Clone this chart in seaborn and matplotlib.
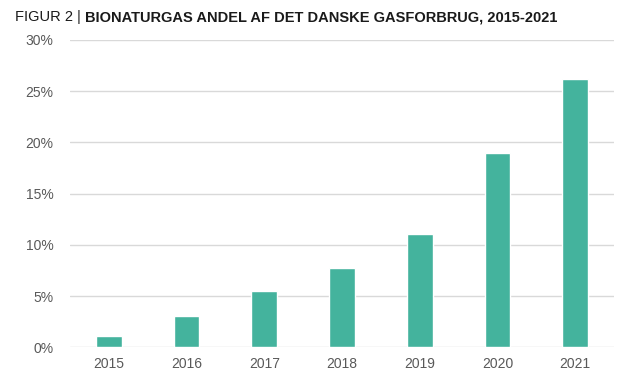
import matplotlib
matplotlib.use("Agg")
import matplotlib.pyplot as plt
import seaborn as sns

years = ["2015", "2016", "2017", "2018", "2019", "2020", "2021"]
share = [1.1, 3.1, 5.5, 7.7, 11.1, 19.0, 26.2]

sns.set_style("white")
plt.rcParams["font.family"] = ["Liberation Sans", "DejaVu Sans"]

fig = plt.figure(figsize=(6.4, 3.92), dpi=100)
ax = fig.add_axes([0.1094, 0.114, 0.8500, 0.784])

sns.barplot(x=years, y=share, color="#44B39D", width=0.33, saturation=1, ax=ax, zorder=3)

ax.set_ylim(0, 30)
ax.set_xlim(-0.5, 6.5)
ax.set_yticks(range(0, 31, 5))
ax.set_yticklabels([f"{v}%" for v in range(0, 31, 5)])
ax.yaxis.grid(True, color="#d9d9d9", linewidth=1.0, zorder=0)
ax.set_axisbelow(True)
for s in ax.spines.values():
    s.set_visible(False)
ax.tick_params(axis="both", length=0, labelsize=10, labelcolor="#595959")
ax.tick_params(axis="y", pad=12)
ax.tick_params(axis="x", pad=7)
ax.set_xlabel("")
ax.set_ylabel("")

# title: normal part + bold part, sized so it ends near x=557px
fs = 12.5
y0 = 1 - 21 / 392
t1 = fig.text(15 / 640, y0, "FIGUR 2 | ", fontsize=fs, color="#1a1a1a", va="baseline")
fig.canvas.draw()
t2 = fig.text(t1.get_window_extent().x1 / 640, y0,
              "BIONATURGAS ANDEL AF DET DANSKE GASFORBRUG, 2015-2021",
              fontsize=fs, fontweight="bold", color="#1a1a1a", va="baseline")
fig.canvas.draw()
scale = (557 - 15) / (t2.get_window_extent().x1 - 15)
fs = fs * scale
t1.set_fontsize(fs)
t2.set_fontsize(fs)
fig.canvas.draw()
t2.set_x(t1.get_window_extent().x1 / 640)

fig.savefig("out.png", dpi=100)
